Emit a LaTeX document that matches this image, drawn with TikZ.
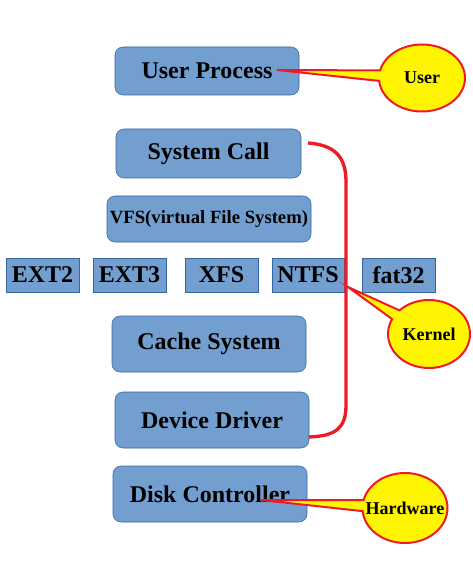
\documentclass[tikz,border=0pt]{standalone}
\usepackage{fontspec}
\setmainfont{Liberation Serif}
\usepackage{tikz}
\usetikzlibrary{shapes.callouts}
\definecolor{boxfill}{RGB}{114,159,207}
\definecolor{boxline}{RGB}{52,101,164}
\definecolor{kred}{RGB}{237,28,36}
\definecolor{kyellow}{RGB}{255,245,0}
\begin{document}
\begin{tikzpicture}[x=0.75pt, y=-0.75pt,
    layer/.style={draw=boxline, fill=boxfill, rounded corners=6pt, inner sep=0pt,
      font=\fontsize{18}{21}\selectfont\bfseries},
    fsbox/.style={draw=boxline, fill=boxfill, inner sep=0pt, minimum width=73*0.75pt,
      minimum height=34*0.75pt, font=\fontsize{18}{21}\selectfont\bfseries},
    bubble/.style={ellipse callout, draw=kred, fill=kyellow, line width=1.5pt, inner sep=0pt,
      callout pointer arc=18, font=\fontsize{13.5}{16}\selectfont\bfseries}]
    \useasboundingbox (0, 0) rectangle (473, 573);
    % layers
    \node [layer, minimum width=184*0.75pt, minimum height=48*0.75pt] (up) at (207, 71) {User Process};
    \node [layer, minimum width=185*0.75pt, minimum height=49*0.75pt] (sc) at (208.5, 153.5) {System Call};
    \node [layer, minimum width=204*0.75pt, minimum height=46*0.75pt,
      font=\fontsize{14}{17}\selectfont\bfseries] (vfs) at (209, 219) {VFS(virtual File System)};
    \node [fsbox] (ext2) at (42.5, 275) {EXT2};
    \node [fsbox] (ext3) at (129.5, 275) {EXT3};
    \node [fsbox] (xfs) at (221.5, 275) {XFS};
    \node [fsbox, minimum width=72*0.75pt] (ntfs) at (308, 275) {NTFS};
    \node [fsbox] (fat) at (398.5, 275) {fat32};
    \node [layer, minimum width=194*0.75pt, minimum height=56*0.75pt] (cache) at (209, 344) {Cache System};
    \node [layer, minimum width=194*0.75pt, minimum height=56*0.75pt] (dd) at (212, 420) {Device Driver};
    \node [layer, minimum width=194*0.75pt, minimum height=56*0.75pt] (dc) at (210, 494) {Disk Controller};
    % kernel bracket
    \coordinate (ktop) at (308, 143);
    \coordinate (kbot) at (309, 437);
    \coordinate (ktip) at (348, 287);
    \draw [kred, line width=2.5pt] (ktop) .. controls (336, 145) and (346, 158) .. (346, 182)
      -- (346, 405) .. controls (346, 428) and (336, 436) .. (kbot);
    % callouts
    \coordinate (utip) at (277, 70);
    \coordinate (htip) at (261, 500);
    \node [bubble, minimum width=86*0.75pt, minimum height=67*0.75pt,
      callout absolute pointer={(utip)}] (user) at (422, 78) {User};
    \node [bubble, minimum width=82*0.75pt, minimum height=68*0.75pt,
      callout absolute pointer={(ktip)}] (kernel) at (429, 334) {Kernel};
    \node [bubble, minimum width=85*0.75pt, minimum height=70*0.75pt, inner xsep=-9pt,
      callout absolute pointer={(htip)}] (hw) at (405, 508) {Hardware};
\end{tikzpicture}
\end{document}
